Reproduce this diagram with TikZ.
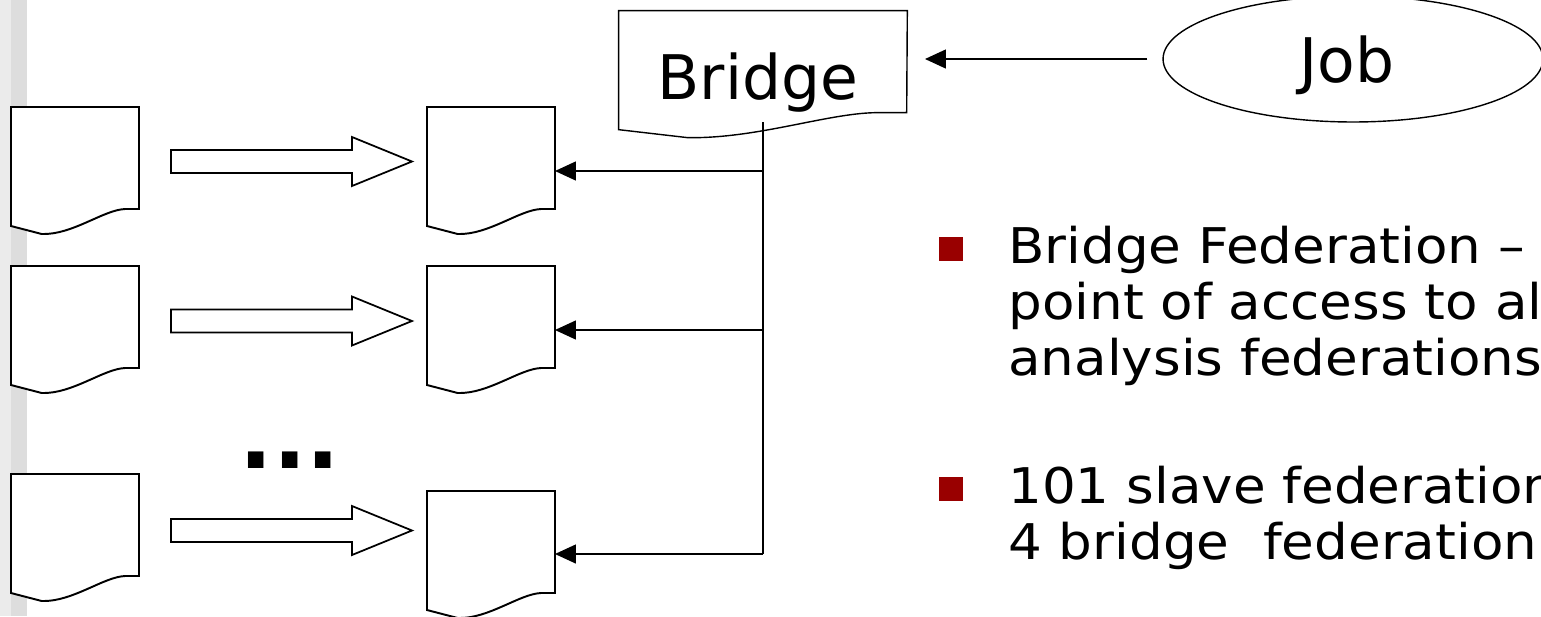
\documentclass[tikz,border=0pt]{standalone}
\usepackage{fontspec}
\setmainfont{DejaVu Sans}
\usetikzlibrary{arrows.meta,calc,shapes.geometric}
\definecolor{stripA}{HTML}{EBEBEB}
\definecolor{stripB}{HTML}{DDDDDD}
\definecolor{bulletred}{HTML}{990000}

% page outline of a document symbol laid over a named box node
% #1 node, #2 width in px, #3 line style
\newcommand\paperoutline[3]{%
  \path[#3] (#1.north west) -- (#1.north east)
    -- ($(#1.north west)+(#2,102)$)
    -- ($(#1.north west)+({0.89*#2},102)$)
    .. controls ($(#1.north west)+({0.72*#2},103)$) and ($(#1.north west)+({0.48*#2},128)$)
    .. ($(#1.north west)+({0.24*#2},127)$)
    -- ($(#1.north west)+(0,119)$) -- cycle;}

% hollow block arrow starting at a named coordinate
\newcommand\hollowarrow[1]{%
  \path[blockarrow] (#1) ++(0,-11.5) -- ++(181,0) -- ++(0,-13) -- ++(60,24.5)
    -- ++(-60,24.5) -- ++(0,-13) -- ++(-181,0) -- cycle;}

\begin{document}
\begin{tikzpicture}[x=0.02cm,y=-0.02cm,
  docbox/.style={minimum width=2.56cm,minimum height=2.54cm,inner sep=0pt,outer sep=0pt},
  docline/.style={draw=black,line width=1.1pt,fill=white,line join=miter},
  bridgeline/.style={draw=black,line width=0.8pt,fill=white,line join=miter},
  conn/.style={draw=black,line width=0.75pt},
  tip/.style={-{Triangle[length=11.9pt,width=10.8pt]}},
  blockarrow/.style={draw=black,line width=1pt,fill=white,line join=miter},
  bigtext/.style={font=\fontsize{35}{42}\selectfont,inner sep=0pt},
  bodytext/.style={font=\fontsize{28}{33}\selectfont\addfontfeature{FakeStretch=1.08},inner sep=0pt,anchor=base west},
  bulletsq/.style={fill=bulletred,minimum size=0.48cm,inner sep=0pt}]

\useasboundingbox (0,0) rectangle (1541,616);
\clip (0,0) rectangle (1541,616);

% side strip
\fill[stripA] (0,0) rectangle (11,616);
\fill[stripB] (11,0) rectangle (27,616);

% slave federation documents (left) and bridge-side documents (middle)
\node[docbox] (L1) at (75,170.5) {};
\node[docbox] (L2) at (75,329.5) {};
\node[docbox] (L3) at (75,537.5) {};
\node[docbox] (M1) at (491,170.5) {};
\node[docbox] (M2) at (491,329.5) {};
\node[docbox] (M3) at (491,554.5) {};
\foreach \n in {L1,L2,L3,M1,M2,M3} {\paperoutline{\n}{128}{docline}}

% bridge document
\node[minimum width=5.76cm,minimum height=2.52cm,inner sep=0pt] (bridge) at (763,74) {};
\paperoutline{bridge}{288}{bridgeline}
\node[bigtext,anchor=base] (bridgelabel) at (758,99) {Bridge};

% job
\node[ellipse,draw=black,line width=0.8pt,minimum width=7.6cm,minimum height=2.52cm,inner sep=0pt] (job) at (1353,59) {};
\node[bigtext,anchor=base] (joblabel) at (1347,82) {Job};
\coordinate (jobtip) at (925,59);
\draw[conn,tip,shorten <=8.5pt] (job.west) -- (jobtip);

% hollow arrows between the document columns
\coordinate (s1) at ($(L1.east)+(32,-9)$);
\coordinate (s2) at ($(L2.east)+(32,-8.5)$);
\coordinate (s3) at ($(L3.east)+(32,-7)$);
\hollowarrow{s1}
\hollowarrow{s2}
\hollowarrow{s3}

\node[font=\fontsize{50}{50}\bfseries\selectfont,inner sep=0pt,anchor=base west] (dots) at (239.5,468) {...};

% bus from the bridge to each document
\coordinate (bustop) at ($(bridge.south)+(0,-15)$);
\coordinate (tap1) at (763,171);
\coordinate (tap2) at (763,330);
\coordinate (tap3) at (763,554);
\draw[conn] (bustop) -- (tap3);
\draw[conn,tip] (tap1) -- (tap1 -| M1.east);
\draw[conn,tip] (tap2) -- (tap2 -| M2.east);
\draw[conn,tip] (tap3) -- (tap3 -| M3.east);

% bullet list
\node[bulletsq] (sq1) at (951,249) {};
\node[bodytext] (t11) at (1008,263) {Bridge Federation –};
\node[bodytext] (t12) at (1008,319) {point of access to all};
\node[bodytext] (t13) at (1008,375) {analysis federations};
\node[bulletsq] (sq2) at (951,489) {};
\node[bodytext] (t21) at (1008,503) {101 slave federation};
\node[bodytext] (t22) at (1008,559) {4 bridge\ \ federation};
\end{tikzpicture}
\end{document}
